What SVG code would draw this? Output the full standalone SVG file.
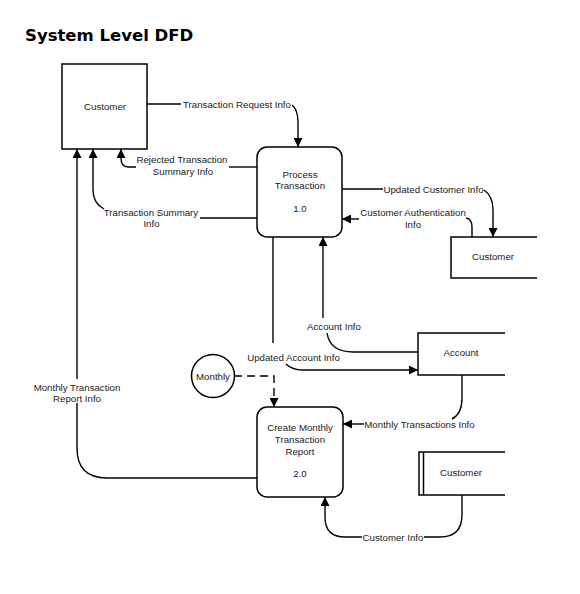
<svg xmlns="http://www.w3.org/2000/svg" width="580" height="594" viewBox="0 0 580 594">
<defs>
<marker id="arr" viewBox="0 0 10 10" refX="10" refY="5" markerWidth="9" markerHeight="9" markerUnits="userSpaceOnUse" orient="auto">
<path d="M0,0 L10,5 L0,10 z" fill="#000"/>
</marker>
<style>
.box{fill:#fff;stroke:#000;stroke-width:1.5}
.st{fill:none;stroke:#000;stroke-width:1.5}
.t{font-family:"Liberation Sans",Arial,sans-serif;font-size:9.7px;fill:#222;text-anchor:middle}
.c{fill:none;stroke:#000;stroke-width:1.4}
.a{marker-end:url(#arr)}
.d{stroke-dasharray:8,5}
</style>
</defs>
<rect width="580" height="594" fill="#fff"/>
<text x="25" y="40.5" style="font-family:'DejaVu Sans',Verdana,sans-serif;font-weight:bold;font-size:16.5px;fill:#000">System Level DFD</text>

<g id="connectors">
<path class="c" d="M147,104 H181"/>
<path class="c a" d="M292,105 Q298,110 298,122 V147"/>
<path class="c" d="M257,167 H229"/>
<path class="c a" d="M136,167 H128 Q121,167 121,158 V149"/>
<path class="c" d="M257,218 H200"/>
<path class="c a" d="M104,209 Q93,203 93,190 V149"/>
<path class="c" d="M257,478 H107 Q77,478 77,448 V403"/>
<path class="c a" d="M77,379 V149"/>
<path class="c" d="M342,189 H383"/>
<path class="c a" d="M484,190 Q493,196 493,210 V237"/>
<path class="c" d="M472,237 V227 Q472,219 466,218"/>
<path class="c a" d="M359,219 H342"/>
<path class="c" d="M418,352 H353 Q330,352 327,333"/>
<path class="c a" d="M323,318 V237"/>
<path class="c" d="M273,237 V343"/>
<path class="c a" d="M286,364 Q292,370 303,370 H418"/>
<path class="c a d" d="M234,376 H274 V407"/>
<path class="c" d="M462,375 V398 Q462,414 452,419"/>
<path class="c a" d="M364,424 H343"/>
<path class="c" d="M462,495 V515 Q462,537 440,537 H424"/>
<path class="c a" d="M362,537 H345 Q325,537 325,517 V497"/>
<text class="t" x="237" y="107.5">Transaction Request Info</text>
<text class="t" x="182" y="162.5">Rejected Transaction</text>
<text class="t" x="183" y="174.5">Summary Info</text>
<text class="t" x="151" y="215.5">Transaction Summary</text>
<text class="t" x="151.5" y="227">Info</text>
<text class="t" x="77" y="390.5">Monthly Transaction</text>
<text class="t" x="77" y="402">Report Info</text>
<text class="t" x="433.5" y="192.5">Updated Customer Info</text>
<text class="t" x="413" y="215.5">Customer Authentication</text>
<text class="t" x="413" y="227.5">Info</text>
<text class="t" x="334" y="330">Account Info</text>
<text class="t" x="293.5" y="360.5">Updated Account Info</text>
<text class="t" x="419.5" y="427.5">Monthly Transactions Info</text>
<text class="t" x="393" y="540.5">Customer Info</text>
</g>

<g id="customer-entity">
<rect class="box" x="62" y="64" width="85" height="85"/>
<text class="t" x="105" y="109.5">Customer</text>
</g>
<g id="process-1">
<rect class="box" x="257" y="147" width="85" height="90" rx="10"/>
<text class="t" x="300" y="177.5">Process</text>
<text class="t" x="300" y="189">Transaction</text>
<text class="t" x="300" y="212">1.0</text>
</g>
<g id="customer-store">
<path class="st" d="M537,237 H451 V278 H537"/>
<text class="t" x="493" y="259.5">Customer</text>
</g>
<g id="account-store">
<path class="st" d="M505,333 H418 V375 H505"/>
<text class="t" x="461" y="356">Account</text>
</g>
<g id="monthly">
<circle class="box" cx="213" cy="376" r="21.5"/>
<text class="t" x="213" y="379.5">Monthly</text>
</g>
<g id="process-2">
<rect class="box" x="257" y="407" width="86" height="90" rx="10"/>
<text class="t" x="300" y="430.5">Create Monthly</text>
<text class="t" x="300" y="442.5">Transaction</text>
<text class="t" x="300" y="454.5">Report</text>
<text class="t" x="300" y="476.5">2.0</text>
</g>
<g id="customer-store-2">
<path class="st" d="M505,452 H419 V495 H505 M423.5,452 V495"/>
<text class="t" x="461" y="476">Customer</text>
</g>
</svg>
